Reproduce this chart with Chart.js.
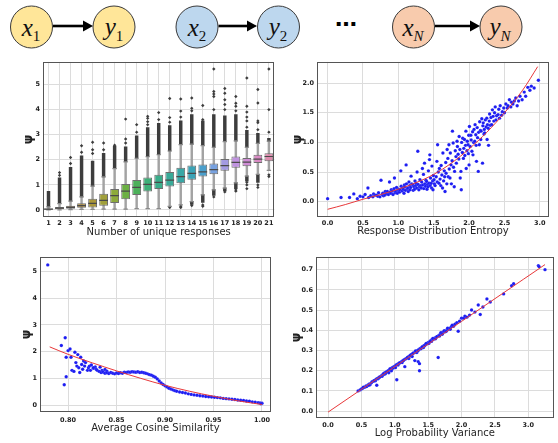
<!DOCTYPE html>
<html><head><meta charset="utf-8">
<script src="https://cdn.jsdelivr.net/npm/chart.js@4.4.1/dist/chart.umd.min.js"></script>
<style>
html,body{margin:0;padding:0;background:#fff;}
body{width:558px;height:443px;position:relative;overflow:hidden;}
canvas{position:absolute;}
#hdr{position:absolute;left:0;top:0;}
</style></head><body>
<svg id="hdr" width="558" height="55" xmlns="http://www.w3.org/2000/svg">
  <g stroke="#3a3a3a" stroke-width="1">
    <circle cx="31.5" cy="27" r="21" fill="#FFE699"/>
    <circle cx="114" cy="27" r="21" fill="#FFE699"/>
    <circle cx="197" cy="27" r="21" fill="#BDD7EE"/>
    <circle cx="278.5" cy="27" r="21" fill="#BDD7EE"/>
    <circle cx="413.5" cy="27" r="21" fill="#F8CBAD"/>
    <circle cx="501" cy="27" r="21" fill="#F8CBAD"/>
  </g>
  <g stroke="#000" stroke-width="2.6">
    <line x1="53" y1="26" x2="85" y2="26"/>
    <line x1="218.5" y1="26" x2="249" y2="26"/>
    <line x1="435" y1="26" x2="471" y2="26"/>
  </g>
  <g fill="#000">
    <polygon points="83,20.5 93,26 83,31.5"/>
    <polygon points="247,20.5 257,26 247,31.5"/>
    <polygon points="470,20.5 480,26 470,31.5"/>
  </g>
  <g font-family="Liberation Serif" font-size="25" fill="#111" text-anchor="middle">
    <text x="31" y="36"><tspan font-style="italic">x</tspan><tspan font-size="15" dy="5">1</tspan></text>
    <text x="114" y="35"><tspan font-style="italic">y</tspan><tspan font-size="15" dy="6">1</tspan></text>
    <text x="197" y="36"><tspan font-style="italic">x</tspan><tspan font-size="15" dy="5">2</tspan></text>
    <text x="278" y="35"><tspan font-style="italic">y</tspan><tspan font-size="15" dy="6">2</tspan></text>
    <text x="413" y="36"><tspan font-style="italic">x</tspan><tspan font-size="15" font-style="italic" dy="5">N</tspan></text>
    <text x="500" y="35"><tspan font-style="italic">y</tspan><tspan font-size="15" font-style="italic" dy="6">N</tspan></text>
  </g>
  <text x="346" y="26" font-family="DejaVu Sans" font-weight="bold" font-size="22" text-anchor="middle" fill="#000">…</text>
</svg>
<canvas id="c1" width="280" height="190" style="left:0;top:55px"></canvas>
<canvas id="c2" width="278" height="190" style="left:280px;top:55px"></canvas>
<canvas id="c3" width="280" height="193" style="left:0;top:250px"></canvas>
<canvas id="c4" width="278" height="193" style="left:280px;top:250px"></canvas>
<script>
// ---------- Panel 1: box plot by number of unique responses ----------
const uniqueLabels = ['1','2','3','4','5','6','7','8','9','10','11','12','13','14','15','16','17','18','19','20','21'];
const boxQ1     = [0.01,0.03,0.05,0.09,0.10,0.17,0.28,0.43,0.60,0.74,0.84,0.94,1.06,1.20,1.33,1.42,1.56,1.68,1.74,1.87,1.94];
const boxMedian = [0.03,0.07,0.10,0.17,0.26,0.38,0.57,0.75,0.90,1.02,1.10,1.19,1.33,1.46,1.52,1.61,1.77,1.90,1.91,2.03,2.13];
const boxQ3     = [0.06,0.12,0.17,0.27,0.45,0.65,0.84,1.03,1.19,1.29,1.40,1.51,1.68,1.77,1.81,1.85,2.03,2.13,2.07,2.20,2.26];
const whiskerLow  = [0.00,0.00,0.01,0.02,0.02,0.03,0.03,0.03,0.05,0.05,0.05,0.14,0.20,0.33,0.60,0.80,0.87,1.08,1.35,1.42,1.58];
const whiskerHigh = [0.12,0.25,0.35,0.52,0.95,1.32,1.65,1.92,2.06,2.12,2.20,2.35,2.60,2.62,2.56,2.50,2.72,2.75,2.50,2.65,2.74];
// runs of overlapping outliers (from, to)
const denseUpperFrom = [0.12,0.25,0.35,0.52,0.95,1.32,1.65,1.92,2.06,2.12,2.20,2.35,2.60,2.62,2.56,2.50,2.72,2.75,2.50,2.65,2.74];
const denseUpperTo   = [0.74,1.28,1.70,2.16,1.95,2.26,2.55,2.52,2.95,3.28,3.45,3.36,3.55,3.80,3.55,3.80,3.75,3.80,3.17,3.05,2.85];
const denseLowerFrom = [null,null,null,null,null,null,null,null,null,null,null,null,null,0.22,0.30,0.58,0.76,0.85,1.15,1.10,null];
const denseLowerTo   = [null,null,null,null,null,null,null,null,null,null,null,null,null,0.33,0.60,0.80,0.87,1.08,1.35,1.42,null];
// isolated outliers: [category, value]
const sparseOutliers = [
  ['2',1.38],['2',1.49],['3',1.85],['3',2.09],['4',2.30],['4',2.56],
  ['5',2.25],['5',2.40],['5',2.70],['6',2.40],['6',2.67],['7',2.58],
  ['8',2.67],['8',2.83],['8',3.62],['9',3.10],['9',3.40],
  ['10',3.40],['10',3.52],['10',3.65],['10',3.73],['11',3.60],['11',3.88],
  ['12',3.50],['12',3.68],['12',4.44],['13',3.70],['13',3.94],['13',4.42],
  ['14',3.95],['14',4.05],['14',4.46],['15',3.60],['15',4.16],
  ['16',4.00],['16',4.52],['16',4.62],['16',4.72],['16',5.62],
  ['17',4.00],['17',4.20],['17',4.39],['17',4.65],['17',4.84],
  ['18',3.95],['18',4.13],['18',4.25],['18',4.52],
  ['19',3.30],['19',3.55],['19',3.70],['19',3.90],['19',4.13],['19',5.26],
  ['20',3.20],['20',3.48],['20',3.55],['20',4.26],['20',4.80],
  ['21',3.10],['21',4.00],['21',5.62],
  ['12',0.10],['13',0.10],['13',0.15],['14',0.18],['15',0.15],['15',0.20],
  ['16',0.52],['17',0.72],['18',0.75],['18',0.80],['19',0.85],['19',1.00],['19',1.10],
  ['20',0.90],['20',1.00],['21',1.33],['21',1.40]
];
const boxYTicks = [0,1,2,3,4,5];

// ---------- Panel 2: response distribution entropy ----------
const entropyPoints = [
 [0,0.05],[0.19,0.07],[0.31,0.07],[0.37,0.13],[0.42,0.05],[0.46,0.09],[0.5,0.08],[0.53,0.12],[0.57,0.23],[0.58,0.07],
 [0.61,0.1],[0.64,0.08],[0.65,0.13],[0.67,0.11],[0.69,0.11],[0.71,0.09],[0.72,0.15],[0.74,0.08],[0.755,0.36],[0.77,0.12],
 [0.78,0.14],[0.79,0.1],[0.81,0.11],[0.815,0.17],[0.83,0.13],[0.845,0.17],[0.86,0.12],[0.875,0.33],[0.88,0.16],[0.895,0.14],
 [0.9,0.2],[0.915,0.18],[0.925,0.12],[0.94,0.22],[0.945,0.4],[0.955,0.15],[0.965,0.17],[0.975,0.24],[0.985,0.14],[0.995,0.19],
 [1.005,0.21],[1.015,0.16],[1.02,0.2],[1.035,0.52],[1.04,0.26],[1.055,0.18],[1.06,0.23],[1.07,0.21],[1.08,0.14],[1.085,0.28],
 [1.09,0.25],[1.1,0.19],[1.11,0.62],[1.115,0.3],[1.125,0.22],[1.135,0.23],[1.14,0.17],[1.15,0.33],[1.16,0.27],[1.165,0.2],
 [1.175,0.24],[1.18,0.43],[1.19,0.3],[1.205,0.28],[1.21,0.19],[1.22,0.25],[1.23,0.21],[1.235,0.35],[1.245,0.27],[1.25,0.31],
 [1.26,0.23],[1.265,0.5],[1.275,0.85],[1.28,0.29],[1.29,0.2],[1.3,0.25],[1.305,0.37],[1.315,0.27],[1.325,0.23],[1.33,0.33],
 [1.34,0.56],[1.345,0.28],[1.355,0.46],[1.36,0.22],[1.37,0.65],[1.375,0.3],[1.385,0.26],[1.39,0.36],[1.4,0.34],[1.405,0.21],
 [1.415,0.29],[1.42,0.25],[1.425,0.52],[1.435,0.31],[1.44,0.71],[1.445,0.79],[1.45,0.27],[1.455,0.4],[1.465,0.31],[1.47,0.23],
 [1.475,0.6],[1.485,0.35],[1.49,0.2],[1.495,0.44],
 [1.505,0.37],[1.51,0.3],[1.52,0.27],[1.535,0.42],[1.545,0.68],[1.55,0.33],[1.555,0.96],[1.565,0.5],[1.575,0.31],[1.58,0.56],
 [1.59,0.38],[1.6,0.27],[1.605,0.61],[1.615,0.45],[1.625,0.23],[1.63,0.82],[1.64,0.35],[1.65,0.52],[1.655,0.42],[1.66,0.17],
 [1.67,0.66],[1.675,0.48],[1.685,0.3],[1.69,0.88],[1.7,0.73],[1.705,0.42],[1.715,0.96],[1.72,0.55],[1.73,0.4],[1.735,0.82],
 [1.745,0.62],[1.75,0.3],[1.76,0.69],[1.765,1.19],[1.775,0.99],[1.78,0.58],[1.79,0.25],[1.795,0.51],[1.805,0.86],[1.815,0.76],
 [1.82,0.65],[1.83,1.02],[1.835,0.93],[1.845,0.8],[1.855,0.72],[1.86,1.1],[1.87,0.88],[1.875,0.4],[1.885,0.51],[1.89,0.2],
 [1.895,1.0],[1.905,0.83],[1.91,1.07],[1.92,0.73],[1.925,0.9],[1.935,1.05],[1.94,0.78],[1.95,0.95],[1.955,1.19],[1.96,0.56],
 [1.97,0.86],[1.975,1.02],[1.985,0.96],[1.99,0.81],[1.995,1.12],
 [2.0,0.62],[2.005,1.27],[2.015,0.93],[2.025,1.12],[2.03,1.04],[2.04,0.85],[2.05,1.18],[2.055,0.79],[2.065,1.0],[2.07,1.22],
 [2.08,1.02],[2.085,1.3],[2.095,1.13],[2.1,0.95],[2.105,0.68],[2.115,1.25],[2.12,1.08],[2.13,0.51],[2.135,1.17],[2.145,0.96],
 [2.15,1.35],[2.16,1.2],[2.165,1.05],[2.17,1.19],[2.18,1.4],[2.19,0.65],[2.195,1.28],[2.2,1.33],[2.21,1.14],[2.215,1.22],
 [2.22,1.16],[2.23,1.38],[2.24,1.26],[2.25,1.41],[2.255,1.05],[2.26,1.3],[2.27,1.24],[2.275,0.95],[2.285,1.36],[2.29,1.48],
 [2.3,1.29],[2.31,1.42],[2.32,1.3],[2.33,1.55],[2.34,1.44],[2.35,1.36],[2.36,1.5],[2.37,1.6],[2.38,1.38],[2.39,1.45],
 [2.41,1.47],[2.42,1.56],[2.43,1.41],[2.44,1.62],[2.46,1.46],[2.47,1.52],[2.49,1.58],[2.5,1.5],[2.52,1.65],[2.54,1.58],
 [2.55,1.62],[2.57,1.72],[2.59,1.6],[2.6,1.68],[2.62,1.65],[2.64,1.7],[2.66,1.75],[2.68,1.62],[2.7,1.7],[2.72,1.78],
 [2.75,1.72],[2.78,1.85],[2.8,1.78],[2.83,1.93],[2.86,1.88],[2.88,1.95],[2.92,1.92],[2.98,2.05]
];
const entropyFit = [[0,-0.13],[0.25,-0.05],[0.5,0.04],[0.75,0.12],[1.0,0.21],[1.25,0.32],[1.5,0.46],[1.75,0.65],[2.0,0.89],[2.25,1.17],[2.5,1.5],[2.75,1.87],[2.97,2.28]];
const entropyXTicks = [0,0.5,1,1.5,2,2.5,3];
const entropyXTickLabels = ['0.0','0.5','1.0','1.5','2.0','2.5','3.0'];
const entropyYTicks = [0,0.5,1,1.5,2];
const entropyYTickLabels = ['0.0','0.5','1.0','1.5','2.0'];

// ---------- Panel 3: average cosine similarity ----------
const cosinePoints = [
 [0.779,5.25],[0.793,2.23],[0.797,2.52],[0.796,0.76],[0.798,1.06],[0.798,1.79],[0.800,2.04],[0.802,2.10],[0.803,1.79],[0.804,1.30],
 [0.806,1.26],[0.807,1.98],[0.808,1.59],[0.809,1.46],[0.810,1.89],[0.811,1.40],[0.812,1.22],[0.813,1.79],[0.814,1.52],[0.815,1.34],
 [0.816,1.65],[0.817,1.46],[0.818,1.59],[0.820,1.30],[0.821,1.40],[0.822,1.46],[0.823,1.30],[0.824,1.50],[0.826,1.38],[0.828,1.43],
 [0.829,1.34],[0.826,1.40],[0.833,1.42],[0.835,1.30],[0.838,1.33],[0.840,1.27],
 [0.830,1.30],[0.832,1.26],[0.834,1.22],[0.836,1.24],[0.838,1.19],[0.840,1.21],[0.842,1.18],[0.844,1.22],[0.846,1.19],[0.848,1.17],
 [0.850,1.20],[0.852,1.18],[0.854,1.21],[0.856,1.19],[0.858,1.23],[0.860,1.22],[0.862,1.24],[0.864,1.23],[0.866,1.25],[0.868,1.24],
 [0.870,1.23],[0.872,1.25],[0.874,1.22],[0.876,1.23],[0.878,1.21],[0.880,1.19],[0.882,1.17],[0.884,1.14],[0.886,1.12],[0.888,1.08],
 [0.890,1.04],[0.892,0.98],[0.894,0.90],[0.896,0.83],[0.898,0.77],[0.900,0.72],[0.902,0.68],[0.904,0.63],[0.906,0.60],[0.908,0.57],
 [0.910,0.54],[0.912,0.52],[0.915,0.49],[0.918,0.47],[0.921,0.45],[0.924,0.42],[0.927,0.40],[0.930,0.38],[0.933,0.37],[0.936,0.35],
 [0.939,0.34],[0.942,0.32],[0.945,0.31],[0.948,0.30],[0.951,0.29],[0.954,0.28],[0.957,0.27],[0.960,0.25],[0.963,0.24],[0.966,0.23],
 [0.969,0.22],[0.972,0.21],[0.975,0.19],[0.978,0.18],[0.981,0.17],[0.984,0.15],[0.987,0.14],[0.990,0.12],[0.993,0.11],[0.996,0.09],
 [0.998,0.08],[1.000,0.07],[0.999,0.05]
];
const cosineFit = [[0.781,2.18],[0.80,1.90],[0.825,1.58],[0.85,1.28],[0.875,1.00],[0.90,0.74],[0.925,0.52],[0.95,0.33],[0.975,0.16],[1.0,0.02]];
const cosineXTicks = [0.80,0.85,0.90,0.95,1.00];
const cosineXTickLabels = ['0.80','0.85','0.90','0.95','1.00'];
const cosineYTicks = [0,1,2,3,4,5];

// ---------- Panel 4: log probability variance ----------
const variancePoints = [
 [0.45,0.10],[0.48,0.105],[0.5,0.11],[0.52,0.113],[0.55,0.118],[0.57,0.125],[0.58,0.122],[0.6,0.13],[0.62,0.135],[0.63,0.13],
 [0.65,0.14],[0.66,0.145],[0.68,0.148],[0.7,0.152],[0.71,0.15],[0.72,0.158],[0.73,0.128],[0.74,0.162],[0.75,0.16],[0.76,0.165],
 [0.78,0.17],[0.8,0.175],[0.81,0.172],[0.82,0.18],[0.84,0.182],[0.85,0.19],[0.86,0.185],[0.88,0.195],[0.9,0.2],[0.91,0.19],
 [0.92,0.205],[0.94,0.208],[0.95,0.2],[0.96,0.215],[0.98,0.218],[1.0,0.222],[1.01,0.215],[1.02,0.228],[1.03,0.155],[1.04,0.232],
 [1.05,0.228],[1.06,0.236],[1.08,0.24],[1.1,0.245],[1.11,0.24],[1.12,0.25],[1.14,0.255],[1.15,0.22],[1.16,0.258],[1.18,0.262],
 [1.2,0.268],[1.21,0.26],[1.22,0.272],[1.24,0.278],[1.25,0.28],[1.26,0.27],[1.28,0.288],[1.3,0.29],[1.3,0.25],[1.32,0.295],
 [1.33,0.29],[1.34,0.3],[1.35,0.245],[1.36,0.305],[1.37,0.2],[1.37,0.235],[1.38,0.31],[1.4,0.312],[1.42,0.32],[1.43,0.315],
 [1.44,0.325],[1.46,0.33],[1.48,0.332],[1.5,0.34],[1.52,0.342],[1.54,0.35],[1.55,0.345],[1.56,0.355],[1.58,0.355],[1.6,0.362],
 [1.62,0.365],[1.64,0.37],[1.65,0.265],[1.66,0.375],[1.68,0.38],[1.7,0.385],[1.72,0.39],[1.75,0.392],[1.78,0.4],[1.8,0.405],
 [1.82,0.41],[1.85,0.418],[1.88,0.42],[1.9,0.43],[1.93,0.438],[1.95,0.395],[1.97,0.445],[2.0,0.46],[2.03,0.46],[2.05,0.47],
 [2.08,0.465],[2.12,0.475],[2.15,0.5],[2.2,0.49],[2.25,0.525],[2.28,0.478],[2.32,0.515],[2.38,0.555],[2.43,0.54],[2.63,0.58],
 [2.75,0.62],[2.78,0.63],[3.15,0.72],[3.16,0.715],[3.25,0.70],
 [0.53,0.118],[0.61,0.128],[0.69,0.15],[0.77,0.168],[0.83,0.185],[0.87,0.192],[0.93,0.21],[0.97,0.212],[1.07,0.238],[1.13,0.25],
 [1.19,0.265],[1.23,0.275],[1.27,0.285],[1.31,0.298],[1.35,0.3],[1.39,0.308],[1.41,0.318],[1.45,0.325],[1.47,0.335],[1.51,0.335],
 [1.53,0.345],[1.57,0.36],[1.61,0.358],[1.63,0.368],[1.67,0.372],[1.69,0.388],[1.71,0.38],[1.74,0.398],[1.77,0.395],[1.79,0.41],
 [1.83,0.405],[1.86,0.425]
];
const varianceFit = [[0,-0.005],[1.0,0.22],[2.0,0.444],[3.25,0.725]];
const varianceXTicks = [0,0.5,1,1.5,2,2.5,3];
const varianceXTickLabels = ['0.0','0.5','1.0','1.5','2.0','2.5','3.0'];
const varianceYTicks = [0,0.1,0.2,0.3,0.4,0.5,0.6,0.7];
const varianceYTickLabels = ['0.0','0.1','0.2','0.3','0.4','0.5','0.6','0.7'];

// ---------- styling ----------
const boxColors = ['#b07868','#ad7658','#ab7b42','#ad8a3a','#a9963a','#a1a03b','#8daa3c','#6cb044','#4cb05a','#3daf78','#3aad8a',
                   '#39aa98','#39a7a6','#3ba3b6','#4a9fcc','#78a2e0','#a39be2','#c093e0','#d08cd6','#d98ac4','#de8cae'];
const TICK_FONT = {family:'DejaVu Sans', size:6.5, weight:'bold'};
const TITLE_FONT = {family:'DejaVu Sans', size:10};
const PSI_FONT = {family:'DejaVu Sans', size:12, weight:'bold'};
const GRID = {color:'#dcdcdc', lineWidth:1, drawTicks:false};
const frame = {id:'frame', afterDraw(c){const a=c.chartArea, x=c.ctx; x.save(); x.strokeStyle='#555'; x.lineWidth=1;
  x.strokeRect(Math.round(a.left)+0.5, Math.round(a.top)+0.5, Math.round(a.right-a.left)-1, Math.round(a.bottom-a.top)-1); x.restore();}};
const bg = {id:'bg', beforeDraw(c){c.ctx.save(); c.ctx.fillStyle='#fff'; c.ctx.fillRect(0,0,c.width,c.height); c.ctx.restore();}};
Chart.defaults.animation = false;
Chart.defaults.color = '#222';

function yAxis(min, max, ticks, labels, width) {
  return {type:'linear', min, max, grid:GRID, border:{display:false},
    afterBuildTicks: s => { s.ticks = ticks.map(v => ({value:v})); },
    afterFit: s => { s.width = width; },
    ticks:{font:TICK_FONT, color:'#222', padding:3, callback:(v,i)=>labels[i]},
    title:{display:true, text:'ψ', font:PSI_FONT, color:'#222', padding:{top:2,bottom:0}}};
}
function xAxis(min, max, ticks, labels, height, title, pad) {
  return {type:'linear', min, max, grid:GRID, border:{display:false},
    afterBuildTicks: s => { s.ticks = ticks.map(v => ({value:v})); },
    afterFit: s => { s.height = height; },
    ticks:{font:TICK_FONT, color:'#222', padding:pad, maxRotation:0, callback:(v,i)=>labels[i]},
    title:{display:true, text:title, font:TITLE_FONT, color:'#262626', padding:{top:0,bottom:0}}};
}
const commonOpts = (padding) => ({responsive:false, maintainAspectRatio:false, animation:false,
  layout:{padding}, plugins:{legend:{display:false}, tooltip:{enabled:false}}});

// ---------- chart 1 ----------
const pair = (a,b) => a.map((v,i) => (v===null ? null : [v, b[i]]));
new Chart(document.getElementById('c1'), {
  type:'bar',
  data:{labels:uniqueLabels, datasets:[
    {type:'line', data:boxMedian, showLine:false, pointStyle:'line', pointRadius:4.4, pointBorderColor:'#4a4a4a', pointBorderWidth:1.2, order:0},
    {type:'bar', data:pair(boxQ1, boxQ3), backgroundColor:boxColors, borderColor:'#6e6e6e', borderWidth:1, borderSkipped:false,
      barPercentage:0.8, categoryPercentage:1, grouped:false, order:1},
    {type:'line', data:whiskerHigh, showLine:false, pointStyle:'line', pointRadius:2.2, pointBorderColor:'#8a8a8a', pointBorderWidth:1.2, order:2},
    {type:'line', data:whiskerLow, showLine:false, pointStyle:'line', pointRadius:2.2, pointBorderColor:'#8a8a8a', pointBorderWidth:1.2, order:2},
    {type:'line', data:sparseOutliers.map(p => ({x:p[0], y:p[1]})), showLine:false, pointStyle:'rectRot', pointRadius:1.7,
      pointBackgroundColor:'#3d3d3d', pointBorderWidth:0, order:3},
    {type:'bar', data:pair(denseUpperFrom, denseUpperTo), backgroundColor:'#3d3d3d', barThickness:2.8, grouped:false, order:4},
    {type:'bar', data:pair(denseLowerFrom, denseLowerTo), backgroundColor:'#3d3d3d', barThickness:2.8, grouped:false, order:4},
    {type:'bar', data:pair(whiskerLow, whiskerHigh), backgroundColor:'#a3a3a3', barThickness:1.8, grouped:false, order:5}
  ]},
  options:Object.assign(commonOpts({left:20, top:3, right:5, bottom:7}), {
    scales:{
      x:{type:'category', offset:true, grid:Object.assign({offset:false}, GRID), border:{display:false},
        afterFit: s => { s.height = 21; },
        ticks:{font:TICK_FONT, color:'#222', padding:2, autoSkip:false, maxRotation:0, minRotation:0},
        title:{display:true, text:'Number of unique responses', font:TITLE_FONT, color:'#262626', padding:{top:0,bottom:0}}},
      y:yAxis(-0.28, 5.9, boxYTicks, boxYTicks.map(String), 23)
    }}),
  plugins:[bg, frame]
});

// ---------- scatter charts ----------
function scatterChart(id, pts, fit, xs, ys, pad) {
  return new Chart(document.getElementById(id), {
    type:'scatter',
    data:{datasets:[
      {type:'line', data:fit.map(p => ({x:p[0], y:p[1]})), borderColor:'#e8383a', borderWidth:1, pointRadius:0, tension:0.35, order:0},
      {data:pts.map(p => ({x:p[0], y:p[1]})), pointRadius:1.7, pointBackgroundColor:'#1c1cf2', pointBorderColor:'rgba(255,255,255,0.35)', pointBorderWidth:0.3, order:1}
    ]},
    options:Object.assign(commonOpts(pad), {scales:{x:xs, y:ys}}),
    plugins:[bg, frame]
  });
}
scatterChart('c2', entropyPoints, entropyFit,
  xAxis(-0.15, 3.13, entropyXTicks, entropyXTickLabels, 20, 'Response Distribution Entropy', 2),
  yAxis(-0.26, 2.36, entropyYTicks, entropyYTickLabels, 28),
  {left:9, top:2, right:9, bottom:8});
scatterChart('c3', cosinePoints, cosineFit,
  xAxis(0.771, 1.0093, cosineXTicks, cosineXTickLabels, 22, 'Average Cosine Similarity', 4),
  yAxis(-0.26, 5.55, cosineYTicks, cosineYTicks.map(String), 22),
  {left:18, top:3, right:9, bottom:9});
scatterChart('c4', variancePoints, varianceFit,
  xAxis(-0.18, 3.38, varianceXTicks, varianceXTickLabels, 21, 'Log Probability Variance', 3),
  yAxis(-0.034, 0.763, varianceYTicks, varianceYTickLabels, 28),
  {left:8, top:3, right:1, bottom:4});
</script>
</body></html>
